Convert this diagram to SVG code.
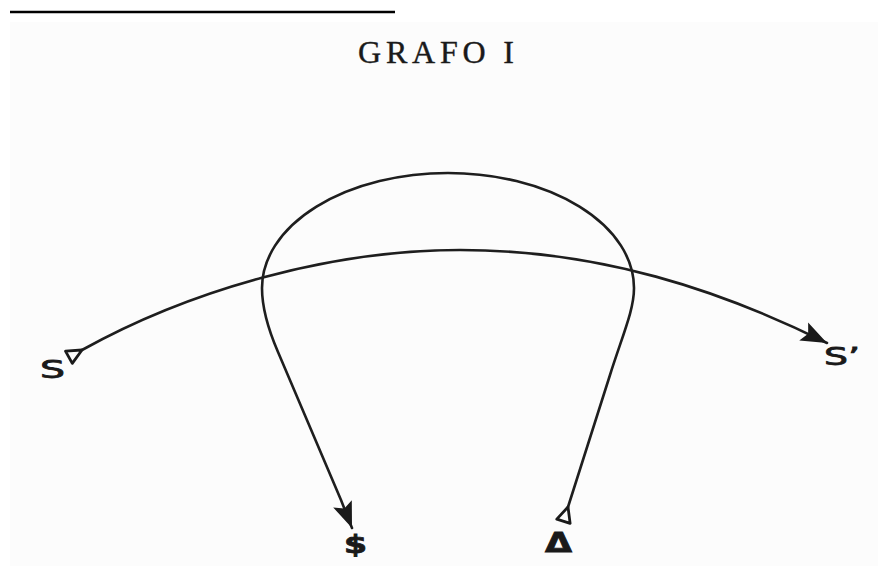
<svg xmlns="http://www.w3.org/2000/svg" width="878" height="571" viewBox="0 0 878 571">
  <style>
    .ln { fill: none; stroke: #1e1e1e; stroke-width: 2.6; stroke-linecap: round; stroke-linejoin: round; }
    .lbl { font-family: "DejaVu Sans", "Liberation Sans", sans-serif; fill: #1a1a1a; stroke: #1a1a1a; stroke-width: 0.8; }
    .title { font-family: "Liberation Serif", "Times New Roman", serif; font-size: 32px; fill: #1a1a1a; stroke: #1a1a1a; stroke-width: 0.4; }
  </style>
  <defs>
    <marker id="arrow" markerUnits="userSpaceOnUse" markerWidth="30" markerHeight="24" refX="26" refY="11" orient="auto">
      <path d="M0,1 L26,11 L0,21 L5,11 Z" fill="#1a1a1a"/>
    </marker>
    <marker id="tail" markerUnits="userSpaceOnUse" markerWidth="24" markerHeight="22" refX="19" refY="11" orient="auto">
      <path d="M19,11 L4,4 L4,18 Z" fill="none" stroke="#1a1a1a" stroke-width="2.8" stroke-linejoin="round"/>
    </marker>
  </defs>
  <rect x="0" y="0" width="878" height="571" fill="#ffffff"/>
  <rect x="10" y="22" width="868" height="544" fill="#fcfcfc"/>
  <line x1="10" y1="12" x2="395" y2="12" stroke="#000" stroke-width="2.5"/>
  <text class="title" x="358" y="63" textLength="156" lengthAdjust="spacing">GRAFO I</text>

  <g id="connectors">
    <path id="chain" class="ln" d="M 82 350 C 190 290, 330 250, 460 250 C 600 250, 720 290, 827 343" marker-start="url(#tail)" marker-end="url(#arrow)"/>
    <path id="loop" class="ln" d="M 568 507 L 610 375 C 623 334, 634 310, 634 288 A 186 115 0 0 0 262 288 C 262 310, 268.5 330, 278 352 L 341 500 L 352 528" marker-start="url(#tail)" marker-end="url(#arrow)"/>
  </g>

  <g id="node-S"><text class="lbl" x="40" y="378" font-size="25" textLength="25" lengthAdjust="spacingAndGlyphs">S</text></g>
  <g id="node-S-prime"><text class="lbl" x="824" y="365" font-size="25" textLength="36" lengthAdjust="spacingAndGlyphs">S’</text></g>
  <g id="node-S-barred"><text class="lbl" x="344" y="553" font-size="24" font-weight="bold" textLength="23" lengthAdjust="spacingAndGlyphs">$</text></g>
  <g id="node-Delta"><text class="lbl" x="545" y="552" font-size="26" font-weight="bold" textLength="27" lengthAdjust="spacingAndGlyphs">Δ</text></g>
</svg>
